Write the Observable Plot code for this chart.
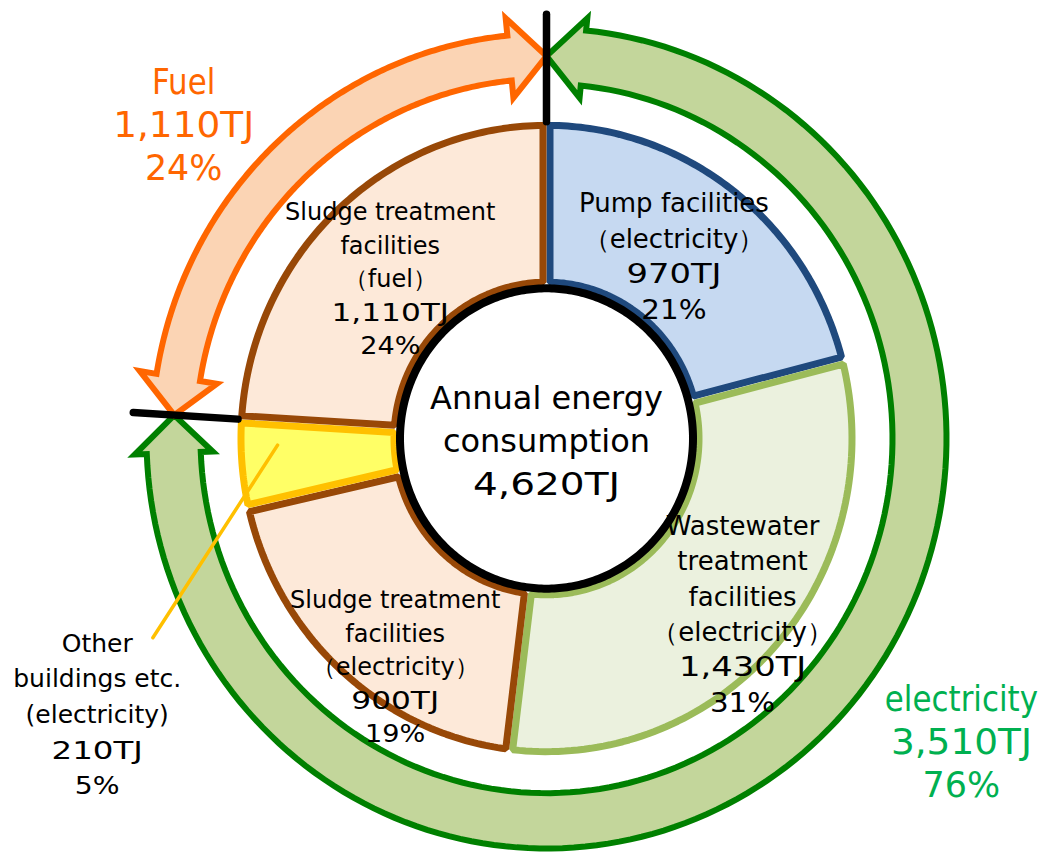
<!DOCTYPE html>
<html>
<head>
<meta charset="utf-8">
<script src="https://cdn.jsdelivr.net/npm/d3@7"></script>
<script src="https://cdn.jsdelivr.net/npm/@observablehq/plot@0.6"></script>
<style>
  html, body { margin: 0; padding: 0; background: #fff; }
  #chart svg { display: block; }
</style>
</head>
<body>
<div id="chart"></div>
<script>
// ---------- data ----------
const categories = [
  "Pump facilities\n（electricity）",
  "Wastewater\ntreatment\nfacilities\n（electricity）",
  "Sludge treatment\nfacilities\n（electricity）",
  "Other\nbuildings etc.\n(electricity)",
  "Sludge treatment\nfacilities\n（fuel）"
];
const energyTJ = [970, 1430, 900, 210, 1110];
const sources = ["electricity", "electricity", "electricity", "electricity", "fuel"];
const sourceNames = { fuel: "Fuel", electricity: "electricity" };
const centerTitle = "Annual energy\nconsumption";
const unit = "TJ";

// ---------- styles ----------
const sliceFill   = ["#C6D9F1", "#EBF1DE", "#FDE9D9", "#FFFF66", "#FDE9D9"];
const sliceStroke = ["#1F497D", "#9BBB59", "#984807", "#FFC000", "#984807"];
const sourceFill   = { fuel: "#FBD4B4", electricity: "#C3D69B" };
const sourceStroke = { fuel: "#FF6600", electricity: "#008000" };
const sourceText   = { fuel: "#FF6600", electricity: "#00B050" };
const FONT = "DejaVu Sans";

// ---------- layout ----------
const W = 1040, H = 852, CX = 546, CY = 438, YS = 1.025;
const RI = 149, RO = 309, SLICE_SW = 7;
const HOLE_R = 146.5;
const ARROW_RC = 373, ARROW_HW = 39, ARROW_HL = 37;
const ARROW_SW = { fuel: 22, electricity: 27 };
const DIV_R0 = 309, DIV_R1 = 414;
// label placement: radius and angular nudge (deg) relative to the slice/arrow mid-angle
const sliceLabelLayout = [
  { r: 218, da: -2,    size: 26, lh: 35.5 },
  { r: 261, da: 0,     size: 26, lh: 35.3 },
  { r: 270, da: -8,    size: 24, lh: 33.5 },
  { r: 524, da: -26.3, size: 25, lh: 35.7 },
  { r: 220, da: -2,    size: 24, lh: 33.5 }
];
const sourceLabelLayout = { fuel: { r: 474, da: -6.7 }, electricity: { r: 510, da: -11.2 }, size: 36, lh: 43 };
const centerLayout = { x: 0, y: 3, size: 32, lh: 43 };
// horizontal glyph stretch per line kind (the original font has wide digits)
const stretch = {
  slice:  { name: 1, tj: 1.3, pct: 1.13 },
  source: { name: 0.86, tj: 1.04, pct: 0.97 },
  center: { name: 1, tj: 1.22, pct: 1 }
};
const leader = { r0: 269, da0: 3.3, r1: 439, da1: -21.6 };

// ---------- derived ----------
const total = d3.sum(energyTJ);
const fmt = d3.format(",");
const pct = v => Math.round(v / total * 100) + "%";
const deg = Math.PI / 180;
const polar = (a, r) => ({ x: r * Math.sin(a), y: -r * Math.cos(a) });
const arcs = d3.pie().sort(null).value(d => d)(energyTJ);

// slices as inset polygons (stroke stays inside each slice)
const slicePts = [];
arcs.forEach((p, i) => {
  const d = SLICE_SW / 2, ro = RO - d, ri = RI + d, n = 90;
  const a0o = p.startAngle + d / ro, a1o = p.endAngle - d / ro;
  const a0i = p.startAngle + d / ri, a1i = p.endAngle - d / ri;
  for (let k = 0; k <= n; k++) slicePts.push({ id: i, fill: sliceFill[i], stroke: sliceStroke[i], ...polar(a0o + (a1o - a0o) * k / n, ro) });
  for (let k = n; k >= 0; k--) slicePts.push({ id: i, fill: sliceFill[i], stroke: sliceStroke[i], ...polar(a0i + (a1i - a0i) * k / n, ri) });
});

// source groups (fuel / electricity) -> double-headed arc arrows
const groups = ["electricity", "fuel"].map(s => {
  const idx = sources.map((v, i) => v === s ? i : -1).filter(i => i >= 0);
  const a0 = d3.min(idx, i => arcs[i].startAngle);
  const a1 = d3.max(idx, i => arcs[i].endAngle);
  return { source: s, value: d3.sum(idx, i => energyTJ[i]), a0, a1 };
});

const arrowPts = [];
groups.forEach(g => {
  const rc = ARROW_RC, sw = ARROW_SW[g.source], hw = ARROW_HW, ha = ARROW_HL / rc, n = 160;
  const a = g.a0, b = g.a1;
  const base = { id: g.source, fill: sourceFill[g.source], stroke: sourceStroke[g.source] };
  const pts = [];
  pts.push(polar(a, rc));
  pts.push(polar(a + ha, rc + hw));
  for (let k = 0; k <= n; k++) pts.push(polar(a + ha + (b - a - 2 * ha) * k / n, rc + sw));
  pts.push(polar(b - ha, rc + hw));
  pts.push(polar(b, rc));
  pts.push(polar(b - ha, rc - hw));
  for (let k = n; k >= 0; k--) pts.push(polar(a + ha + (b - a - 2 * ha) * k / n, rc - sw));
  pts.push(polar(a + ha, rc - hw));
  pts.forEach(p => arrowPts.push({ ...base, ...p }));
});

// divider lines between fuel and electricity
const dividerPts = groups.flatMap((g, i) => [
  { id: i, ...polar(g.a0, DIV_R0) }, { id: i, ...polar(g.a0, DIV_R1) }
]);

// centre hole
const holePts = d3.range(0, 361).map(k => polar(k * deg, HOLE_R));

// leader line for the small slice
const otherIdx = 3;
const otherMid = (arcs[otherIdx].startAngle + arcs[otherIdx].endAngle) / 2;
const leaderPts = [polar(otherMid + leader.da0 * deg, leader.r0), polar(otherMid + leader.da1 * deg, leader.r1)];

// ---------- label lines ----------
const lines = [];
function addBlock(center, nameText, value, size, lh, color, kind) {
  const rows = nameText.split("\n").map(t => ({ t, k: "name" }));
  if (value != null) {
    rows.push({ t: fmt(value) + unit, k: "tj" });
    if (kind !== "center") rows.push({ t: pct(value), k: "pct" });
  }
  const N = rows.length;
  rows.forEach((r, j) => {
    lines.push({
      x: center.x, y: center.y + (j - (N - 1) / 2) * lh / YS,
      text: r.t, size, color, sx: stretch[kind][r.k]
    });
  });
}
arcs.forEach((p, i) => {
  const L = sliceLabelLayout[i];
  const mid = (p.startAngle + p.endAngle) / 2 + L.da * deg;
  addBlock(polar(mid, L.r), categories[i], energyTJ[i], L.size, L.lh, "#000", "slice");
});
groups.forEach(g => {
  const L = sourceLabelLayout[g.source];
  const mid = (g.a0 + g.a1) / 2 + L.da * deg;
  addBlock(polar(mid, L.r), sourceNames[g.source], g.value, sourceLabelLayout.size, sourceLabelLayout.lh, sourceText[g.source], "source");
});
addBlock({ x: centerLayout.x, y: centerLayout.y }, centerTitle, total, centerLayout.size, centerLayout.lh, "#000", "center");

const stretchValues = Array.from(new Set(lines.map(d => d.sx)));
const textMarks = stretchValues.map(sx => Plot.text(lines.filter(d => d.sx === sx), {
  x: "x", y: "y", text: "text", fontSize: "size", fill: "color",
  textAnchor: "middle", lineAnchor: "middle", fontFamily: FONT
}));

// ---------- plot ----------
const chart = Plot.plot({
  width: W, height: H,
  margin: 0,
  style: { background: "#fff", fontFamily: FONT },
  x: { domain: [-CX, W - CX], range: [0, W], axis: null },
  y: { domain: [-CY / YS, (H - CY) / YS], range: [0, H], axis: null },
  color: { type: "identity" },
  marks: [
    Plot.line(slicePts, { x: "x", y: "y", z: "id", fill: "fill", stroke: "stroke", strokeWidth: SLICE_SW,
      curve: "linear-closed", strokeLinejoin: "miter" }),
    Plot.line(holePts, { x: "x", y: "y", fill: "#fff", stroke: "#000", strokeWidth: 8, curve: "linear-closed" }),
    Plot.line(arrowPts, { x: "x", y: "y", z: "id", fill: "fill", stroke: "stroke", strokeWidth: 6,
      curve: "linear-closed", strokeLinejoin: "miter", strokeMiterlimit: 10 }),
    Plot.line(dividerPts, { x: "x", y: "y", z: "id", stroke: "#000", strokeWidth: 7.5 }),
    Plot.line(leaderPts, { x: "x", y: "y", stroke: "#FFC000", strokeWidth: 3.5 }),
    ...textMarks
  ]
});
// horizontal stretch per text mark (text groups are rendered in mark order)
chart.querySelectorAll('g[aria-label="text"]').forEach((g, i) => {
  const sx = stretchValues[i];
  if (sx === 1) return;
  g.querySelectorAll("text").forEach(t => {
    let tr = t.getAttribute("transform");
    if (!tr) {
      const x = +t.getAttribute("x") || 0, y = +t.getAttribute("y") || 0;
      t.removeAttribute("x"); t.removeAttribute("y");
      tr = `translate(${x},${y})`;
    }
    t.setAttribute("transform", `${tr} scale(${sx},1)`);
  });
});
document.getElementById("chart").appendChild(chart);
</script>
</body>
</html>
